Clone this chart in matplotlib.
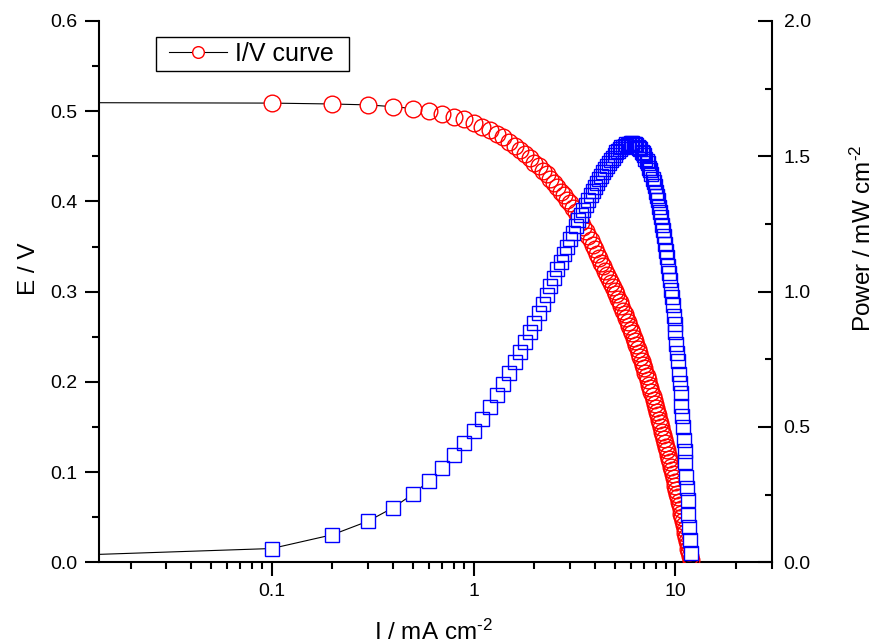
import matplotlib
matplotlib.use("Agg")
import matplotlib.pyplot as plt
from matplotlib.lines import Line2D
from matplotlib.patches import Rectangle
from matplotlib.ticker import LogLocator, MultipleLocator, NullFormatter

plt.rcParams['font.family'] = ['Liberation Sans', 'DejaVu Sans']
plt.rcParams['mathtext.fontset'] = 'custom'
plt.rcParams['mathtext.rm'] = 'Liberation Sans'
plt.rcParams['mathtext.it'] = 'Liberation Sans:italic'
plt.rcParams['mathtext.bf'] = 'Liberation Sans:bold'

# Polarisation data: current density (mA cm-2), cell voltage (V), power density (mW cm-2)
current = [0.001,
           0.1, 0.2, 0.3, 0.4, 0.5, 0.6, 0.7, 0.8, 0.9, 1.0,
           1.1, 1.2, 1.3, 1.4, 1.5, 1.6, 1.7, 1.8, 1.9, 2.0,
           2.1, 2.2, 2.3, 2.4, 2.5, 2.6, 2.7, 2.8, 2.9, 3.0,
           3.1, 3.2, 3.3, 3.4, 3.5, 3.6, 3.7, 3.8, 3.9, 4.0,
           4.1, 4.2, 4.3, 4.4, 4.5, 4.6, 4.7, 4.8, 4.9, 5.0,
           5.1, 5.2, 5.3, 5.4, 5.5, 5.6, 5.7, 5.8, 5.9, 6.0,
           6.1, 6.2, 6.3, 6.4, 6.5, 6.6, 6.7, 6.8, 6.9, 7.0,
           7.1, 7.2, 7.3, 7.4, 7.5, 7.6, 7.7, 7.8, 7.9, 8.0,
           8.1, 8.2, 8.3, 8.4, 8.5, 8.6, 8.7, 8.8, 8.9, 9.0,
           9.1, 9.2, 9.3, 9.4, 9.5, 9.6, 9.7, 9.8, 9.9, 10.0,
           10.1, 10.2, 10.3, 10.4, 10.5, 10.6, 10.7, 10.8, 10.9, 11.0,
           11.1, 11.2, 11.3, 11.4, 11.5, 11.6, 11.7, 11.8, 11.9]

voltage = [0.510,
           0.509, 0.508, 0.507, 0.505, 0.503, 0.500, 0.497, 0.494, 0.491, 0.487,
           0.483, 0.479, 0.475, 0.471, 0.466, 0.462, 0.457, 0.453, 0.448, 0.443,
           0.439, 0.434, 0.430, 0.425, 0.420, 0.416, 0.411, 0.407, 0.402, 0.398,
           0.393, 0.388, 0.383, 0.377, 0.372, 0.367, 0.362, 0.357, 0.352, 0.347,
           0.342, 0.337, 0.332, 0.328, 0.323, 0.318, 0.314, 0.310, 0.305, 0.301,
           0.297, 0.292, 0.288, 0.284, 0.279, 0.275, 0.271, 0.266, 0.262, 0.258,
           0.254, 0.249, 0.245, 0.241, 0.236, 0.232, 0.228, 0.223, 0.219, 0.215,
           0.210, 0.206, 0.202, 0.197, 0.193, 0.189, 0.184, 0.180, 0.176, 0.171,
           0.167, 0.163, 0.158, 0.154, 0.150, 0.145, 0.141, 0.137, 0.132, 0.128,
           0.124, 0.119, 0.115, 0.111, 0.106, 0.102, 0.098, 0.093, 0.089, 0.085,
           0.080, 0.076, 0.072, 0.067, 0.063, 0.059, 0.054, 0.050, 0.046, 0.041,
           0.037, 0.033, 0.028, 0.024, 0.020, 0.015, 0.011, 0.007, 0.003]

power = [0.0005,
         0.051, 0.102, 0.152, 0.202, 0.252, 0.300, 0.348, 0.395, 0.442, 0.487,
         0.531, 0.575, 0.618, 0.659, 0.699, 0.739, 0.777, 0.815, 0.851, 0.886,
         0.922, 0.955, 0.989, 1.020, 1.050, 1.082, 1.110, 1.140, 1.166, 1.194,
         1.218, 1.242, 1.264, 1.282, 1.302, 1.321, 1.339, 1.357, 1.373, 1.388,
         1.402, 1.415, 1.428, 1.443, 1.454, 1.463, 1.476, 1.488, 1.495, 1.505,
         1.515, 1.518, 1.526, 1.534, 1.535, 1.540, 1.545, 1.543, 1.546, 1.548,
         1.549, 1.544, 1.544, 1.542, 1.534, 1.531, 1.528, 1.516, 1.511, 1.505,
         1.491, 1.483, 1.475, 1.458, 1.448, 1.436, 1.417, 1.404, 1.390, 1.368,
         1.353, 1.337, 1.311, 1.294, 1.275, 1.247, 1.227, 1.206, 1.175, 1.152,
         1.128, 1.095, 1.070, 1.043, 1.007, 0.979, 0.951, 0.911, 0.881, 0.850,
         0.808, 0.775, 0.742, 0.697, 0.662, 0.625, 0.578, 0.540, 0.501, 0.451,
         0.411, 0.370, 0.316, 0.274, 0.230, 0.174, 0.129, 0.083, 0.036]

x_ticks = [0.1, 1, 10]
x_tick_labels = ['0.1', '1', '10']
e_ticks = [0.0, 0.1, 0.2, 0.3, 0.4, 0.5, 0.6]
e_tick_labels = ['0.0', '0.1', '0.2', '0.3', '0.4', '0.5', '0.6']
p_ticks = [0.0, 0.5, 1.0, 1.5, 2.0]
p_tick_labels = ['0.0', '0.5', '1.0', '1.5', '2.0']

fig = plt.figure(figsize=(8.75, 6.42), dpi=100)
ax = fig.add_axes([0.1135, 0.1241, 0.7685, 0.8432])
ax2 = ax.twinx()

# I/V curve: thin black connecting line, hollow red circles that mask the line
ax.plot(current, voltage, color='black', lw=0.8, zorder=1)
ax.plot(current, voltage, ls='none', marker='o', ms=12, mfc='white', mec='none', zorder=2)
ax.plot(current, voltage, ls='none', marker='o', ms=12, mfc='none', mec='red', mew=1.0, zorder=3)

# power curve on the right axis
ax2.plot(current, power, color='black', lw=0.8, zorder=1)
ax2.plot(current, power, ls='none', marker='s', ms=10, mfc='white', mec='none', zorder=2)
ax2.plot(current, power, ls='none', marker='s', ms=10, mfc='none', mec='blue', mew=1.0, zorder=3)

ax.set_xscale('log')
ax.set_xlim(0.014, 30)
ax.set_ylim(0, 0.6)
ax2.set_ylim(0, 2.0)

ax.set_xticks(x_ticks)
ax.set_xticklabels(x_tick_labels)
ax.xaxis.set_minor_locator(LogLocator(base=10, subs=range(2, 10), numticks=50))
ax.xaxis.set_minor_formatter(NullFormatter())
ax.set_yticks(e_ticks)
ax.set_yticklabels(e_tick_labels)
ax.yaxis.set_minor_locator(MultipleLocator(0.05))
ax2.set_yticks(p_ticks)
ax2.set_yticklabels(p_tick_labels)
ax2.yaxis.set_minor_locator(MultipleLocator(0.25))

for side in ['top', 'right']:
    ax.spines[side].set_visible(False)
for side in ['top', 'left', 'bottom']:
    ax2.spines[side].set_visible(False)
ax.spines['left'].set_linewidth(1.5)
ax.spines['bottom'].set_linewidth(1.5)
ax2.spines['right'].set_linewidth(1.5)

ax.tick_params(axis='both', which='major', direction='out', length=10, width=1.5,
               labelsize=14, top=False, right=False)
ax.tick_params(axis='both', which='minor', direction='out', length=5, width=1.5,
               top=False, right=False)
ax.tick_params(axis='y', which='major', pad=6)
ax.tick_params(axis='x', which='major', pad=5)
ax2.tick_params(axis='y', which='major', direction='in', length=10, width=1.5,
                labelsize=14, pad=8.6)
ax2.tick_params(axis='y', which='minor', direction='in', length=5, width=1.5)

ax.set_xlabel('I / mA cm$^{\\text{-2}}$', fontsize=17.5)
ax.set_ylabel('E / V', fontsize=17.5)
ax2.set_ylabel('Power / mW cm$^{\\text{-2}}$', fontsize=17.5)
ax.xaxis.set_label_coords(0.497, -0.106)
ax.yaxis.set_label_coords(-0.088, 0.543)
ax2.yaxis.set_label_coords(1.1176, 0.599)

# legend entry without its own frame, boxed by a plain rectangle
handle = Line2D([], [], color='black', lw=0.8, marker='o', ms=8.4,
                mfc='white', mec='red', mew=1.0)
leg = ax2.legend([handle], ['I/V curve'], loc='center left',
                 bbox_to_anchor=(0.1037, 0.939), borderaxespad=0,
                 fontsize=18, frameon=False, borderpad=0,
                 handlelength=2.32, handletextpad=0.32)
ax2.add_patch(Rectangle((0.0843, 0.9076), 0.2870, 0.0629, transform=ax2.transAxes,
                        facecolor='white', edgecolor='black', lw=1.0,
                        zorder=4, clip_on=False))
leg.set_zorder(5)

fig.savefig('out.png', dpi=100)
